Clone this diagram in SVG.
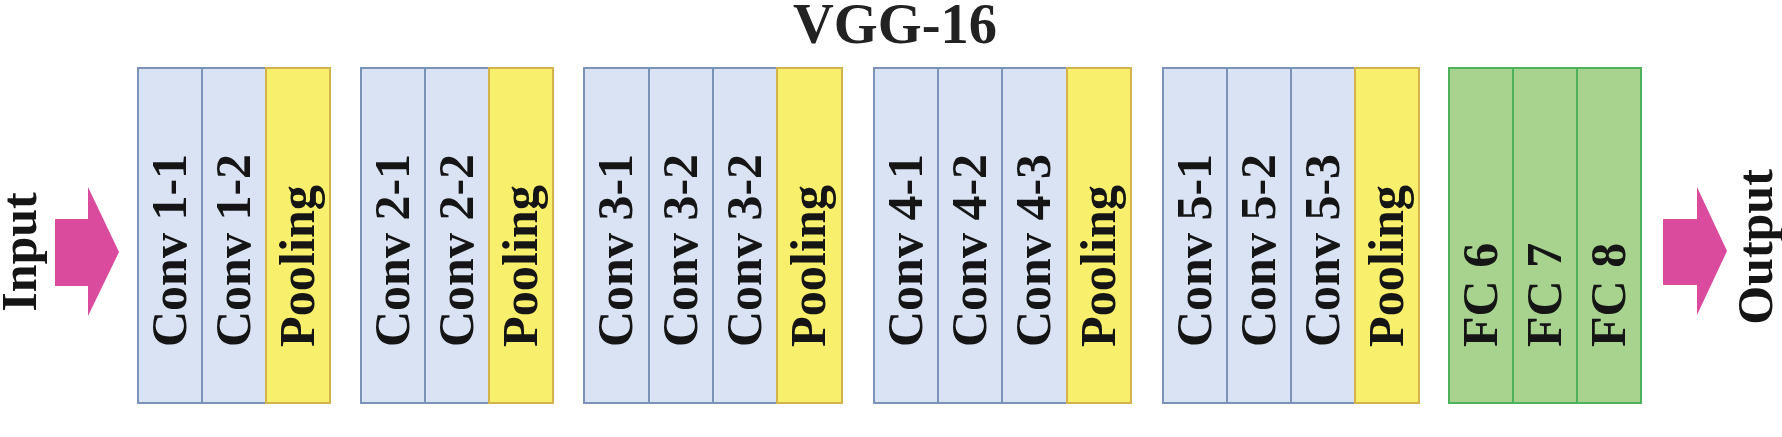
<svg xmlns="http://www.w3.org/2000/svg" width="1782" height="437" viewBox="0 0 1782 437">
<style>
.conv{fill:#dae3f3;stroke:#7b93b8;stroke-width:2}
.pool{fill:#f8ef6c;stroke:#d4b24c;stroke-width:2}
.fc{fill:#a8d38f;stroke:#4cb35c;stroke-width:2}
.lbl{font-family:"Liberation Serif","Times New Roman",serif;font-weight:bold;font-size:50px;fill:#151515}
.title{font-family:"Liberation Serif","Times New Roman",serif;font-weight:bold;font-size:58px;fill:#222}
.arrow{fill:#da4a9d}
</style>
<rect width="1782" height="437" fill="#ffffff"/>
<text class="title" x="895" y="43" text-anchor="middle" textLength="204" lengthAdjust="spacingAndGlyphs">VGG-16</text>

<g id="input">
<text class="lbl" transform="translate(36,252) rotate(-90)" text-anchor="middle">Input</text>
</g>
<g id="output">
<text class="lbl" transform="translate(1772,247) rotate(-90)" text-anchor="middle">Output</text>
</g>

<g id="block1">
<g id="conv1-1"><rect class="conv" x="138" y="68" width="64" height="335"/><text class="lbl" transform="translate(186,347) rotate(-90)">Conv 1-1</text></g>
<g id="conv1-2"><rect class="conv" x="202" y="68" width="64" height="335"/><text class="lbl" transform="translate(250,347) rotate(-90)">Conv 1-2</text></g>
<g id="pool1"><rect class="pool" x="266" y="68" width="64" height="335"/><text class="lbl" transform="translate(314,347) rotate(-90)" textLength="162" lengthAdjust="spacingAndGlyphs">Pooling</text></g>
</g>

<g id="block2">
<g id="conv2-1"><rect class="conv" x="361" y="68" width="64" height="335"/><text class="lbl" transform="translate(409,347) rotate(-90)">Conv 2-1</text></g>
<g id="conv2-2"><rect class="conv" x="425" y="68" width="64" height="335"/><text class="lbl" transform="translate(473,347) rotate(-90)">Conv 2-2</text></g>
<g id="pool2"><rect class="pool" x="489" y="68" width="64" height="335"/><text class="lbl" transform="translate(537,347) rotate(-90)" textLength="162" lengthAdjust="spacingAndGlyphs">Pooling</text></g>
</g>

<g id="block3">
<g id="conv3-1"><rect class="conv" x="584" y="68" width="65" height="335"/><text class="lbl" transform="translate(632,347) rotate(-90)">Conv 3-1</text></g>
<g id="conv3-2"><rect class="conv" x="649" y="68" width="64" height="335"/><text class="lbl" transform="translate(697,347) rotate(-90)">Conv 3-2</text></g>
<g id="conv3-3"><rect class="conv" x="713" y="68" width="64" height="335"/><text class="lbl" transform="translate(761,347) rotate(-90)">Conv 3-2</text></g>
<g id="pool3"><rect class="pool" x="777" y="68" width="65" height="335"/><text class="lbl" transform="translate(825,347) rotate(-90)" textLength="162" lengthAdjust="spacingAndGlyphs">Pooling</text></g>
</g>

<g id="block4">
<g id="conv4-1"><rect class="conv" x="874" y="68" width="64" height="335"/><text class="lbl" transform="translate(922,347) rotate(-90)">Conv 4-1</text></g>
<g id="conv4-2"><rect class="conv" x="938" y="68" width="64" height="335"/><text class="lbl" transform="translate(986,347) rotate(-90)">Conv 4-2</text></g>
<g id="conv4-3"><rect class="conv" x="1002" y="68" width="65" height="335"/><text class="lbl" transform="translate(1050,347) rotate(-90)">Conv 4-3</text></g>
<g id="pool4"><rect class="pool" x="1067" y="68" width="64" height="335"/><text class="lbl" transform="translate(1115,347) rotate(-90)" textLength="162" lengthAdjust="spacingAndGlyphs">Pooling</text></g>
</g>

<g id="block5">
<g id="conv5-1"><rect class="conv" x="1163" y="68" width="64" height="335"/><text class="lbl" transform="translate(1211,347) rotate(-90)">Conv 5-1</text></g>
<g id="conv5-2"><rect class="conv" x="1227" y="68" width="64" height="335"/><text class="lbl" transform="translate(1275,347) rotate(-90)">Conv 5-2</text></g>
<g id="conv5-3"><rect class="conv" x="1291" y="68" width="64" height="335"/><text class="lbl" transform="translate(1339,347) rotate(-90)">Conv 5-3</text></g>
<g id="pool5"><rect class="pool" x="1355" y="68" width="64" height="335"/><text class="lbl" transform="translate(1403,347) rotate(-90)" textLength="162" lengthAdjust="spacingAndGlyphs">Pooling</text></g>
</g>

<g id="fc">
<g id="fc6"><rect class="fc" x="1449" y="68" width="64" height="335"/><text class="lbl" transform="translate(1497,347) rotate(-90)">FC 6</text></g>
<g id="fc7"><rect class="fc" x="1513" y="68" width="64" height="335"/><text class="lbl" transform="translate(1561,347) rotate(-90)">FC 7</text></g>
<g id="fc8"><rect class="fc" x="1577" y="68" width="64" height="335"/><text class="lbl" transform="translate(1625,347) rotate(-90)">FC 8</text></g>
</g>

<g id="connectors">
<polygon class="arrow" points="55,219 88,219 88,187 119,252 88,316 88,286 55,286"/>
<polygon class="arrow" points="1663,219 1697,219 1697,187 1727,251 1697,315 1697,285 1663,285"/>
</g>
</svg>
